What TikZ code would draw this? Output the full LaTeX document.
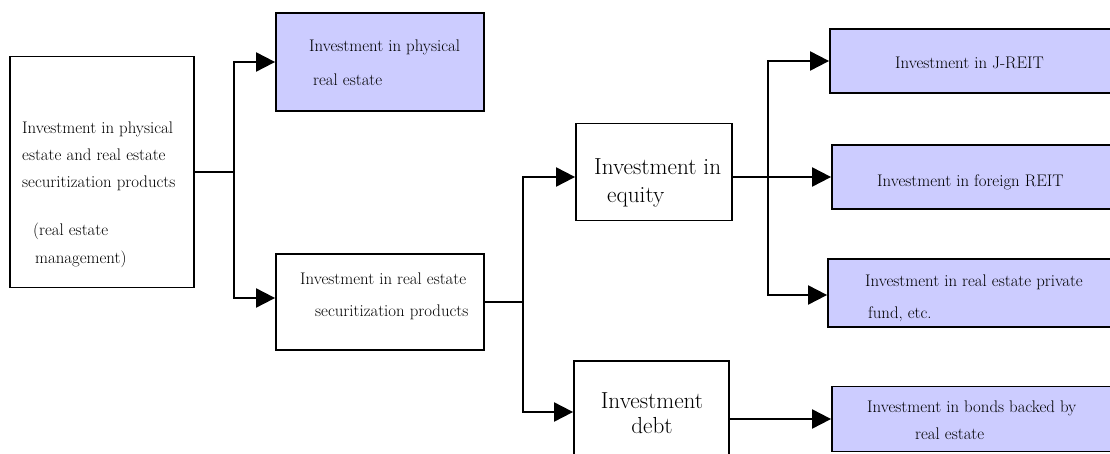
\documentclass[tikz,border=0pt]{standalone}
\usepackage{fontspec}
\usetikzlibrary{arrows.meta}
\definecolor{lav}{HTML}{CCCCFF}
\tikzset{
  box/.style={draw=black, line width=1.8pt, rectangle, inner sep=0pt},
  leaf/.style={box, fill=lav},
  conn/.style={line width=2pt},
  arr/.style={conn, -{Triangle[length=19pt,width=19pt]}, shorten >=0pt},
  small/.style={anchor=base west, inner sep=0pt, font=\fontsize{16.8}{20}\selectfont},
  big/.style={anchor=base west, inner sep=0pt, font=\fontsize{23.2}{27}\selectfont},
  bigc/.style={anchor=base, inner sep=0pt, font=\fontsize{23.2}{27}\selectfont}
}
\begin{document}
\begin{tikzpicture}[x=1pt,y=-1pt]
\useasboundingbox (0,0) rectangle (1110,454);
\clip (0,0) rectangle (1110,454);
% boxes
\node[box, minimum width=184pt, minimum height=231pt] (A) at (102,172) {};
\node[leaf, minimum width=208pt, minimum height=98pt] (B) at (380,62) {};
\node[box, minimum width=208pt, minimum height=96pt] (C) at (380,302) {};
\node[box, minimum width=156pt, minimum height=97pt] (D) at (654,172) {};
\node[box, minimum width=155pt, minimum height=120pt] (E) at (651.5,421) {};
\node[leaf, minimum width=290pt, minimum height=64pt] (F) at (975,61) {};
\node[leaf, minimum width=288pt, minimum height=64pt] (G) at (976,177) {};
\node[leaf, minimum width=292pt, minimum height=68pt] (H) at (974,293) {};
\node[leaf, minimum width=288pt, minimum height=65pt] (I) at (976,419) {};
% texts
\node[small] (a1) at (22,134) {Investment in physical};
\node[small] (a2) at (22,161) {estate and real estate};
\node[small] (a3) at (22,188) {securitization products};
\node[small] (a4) at (33,236) {(real estate};
\node[small] (a5) at (35,263) {management)};
\node[small] (b1) at (309,52) {Investment in physical};
\node[small] (b2) at (313,86) {real estate};
\node[small] (c1) at (300,284) {Investment in real estate};
\node[small] (c2) at (315,316) {securitization products};
\node[big] (d1) at (594,175) {Investment in};
\node[big] (d2) at (607,203) {equity};
\node[bigc] (e1) at (652,408) {Investment};
\node[bigc] (e2) at (652,433) {debt};
\node[small] (f1) at (895,69) {Investment in J-REIT};
\node[small] (g1) at (877,187) {Investment in foreign REIT};
\node[small] (h1) at (865,286) {Investment in real estate private};
\node[small] (h2) at (868,318) {fund, etc.};
\node[small] (i1) at (867,412) {Investment in bonds backed by};
\node[small] (i2) at (915,439) {real estate};
% connectors
\coordinate (j1) at (234,172);
\draw[conn] (A.east) -- (j1);
\draw[arr] (j1) |- (B.west);
\draw[arr] (j1) |- ([yshift=4pt]C.west);
\coordinate (j2) at (523,302);
\draw[conn] (C.east) -- (j2);
\draw[arr] (j2) |- ([yshift=-5pt]D.west);
\draw[arr] (j2) |- ([yshift=9pt]E.west);
\coordinate (j3) at (768,177);
\draw[conn] (D.east |- j3) -- (j3);
\draw[arr] (j3) |- (F.west);
\draw[arr] (j3) -- (G.west);
\draw[arr] (j3) |- ([yshift=-2pt]H.west);
\draw[arr] (E.east |- I.west) -- (I.west);
\end{tikzpicture}
\end{document}
